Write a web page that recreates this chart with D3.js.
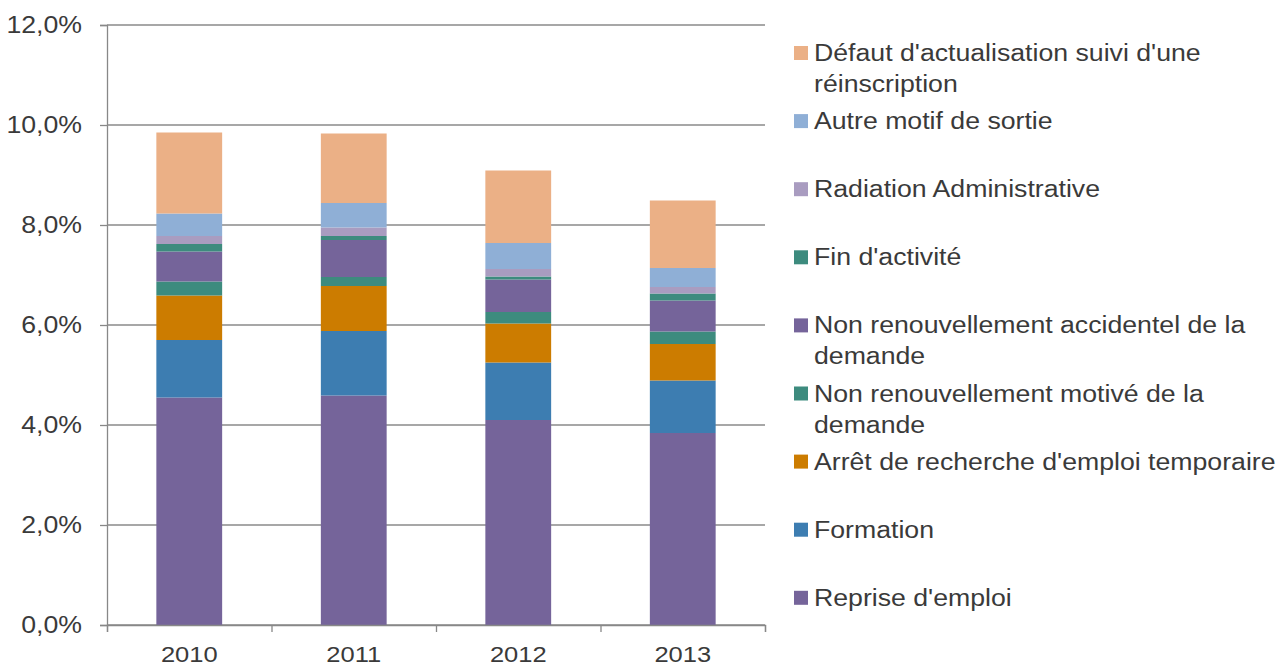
<!DOCTYPE html>
<html>
<head>
<meta charset="utf-8">
<script src="https://cdn.jsdelivr.net/npm/d3@7"></script>
<style>
  body { margin: 0; background: #fff; }
  text { font-family: "Liberation Sans", Arial, sans-serif; fill: #3a3a3a; }
</style>
</head>
<body>
<svg id="chart" width="1279" height="666"></svg>
<script>
// values in % of job seekers
const years = ['2010', '2011', '2012', '2013']
const reprise = [4.55, 4.59, 4.1, 3.84]
const formation = [1.15, 1.29, 1.15, 1.05]
const arret = [0.89, 0.9, 0.78, 0.73]
const nonRenouvMotive = [0.28, 0.18, 0.23, 0.25]
const nonRenouvAccident = [0.6, 0.74, 0.65, 0.62]
const finActivite = [0.15, 0.08, 0.06, 0.14]
const radiation = [0.16, 0.17, 0.15, 0.13]
const autreMotif = [0.45, 0.49, 0.52, 0.38]
const defaut = [1.62, 1.39, 1.45, 1.35]
const yTicks = [0, 2, 4, 6, 8, 10, 12]

// bottom to top
const series = [
  { key: 'reprise', values: reprise, color: '#75649a', label: ["Reprise d'emploi"] },
  { key: 'formation', values: formation, color: '#3d7db1', label: ['Formation'] },
  { key: 'arret', values: arret, color: '#cc7c00', label: ["Arrêt de recherche d'emploi temporaire"] },
  { key: 'motive', values: nonRenouvMotive, color: '#3d8b7e', label: ['Non renouvellement motivé de la', 'demande'] },
  { key: 'accident', values: nonRenouvAccident, color: '#75649a', label: ['Non renouvellement accidentel de la', 'demande'] },
  { key: 'fin', values: finActivite, color: '#3d8b7e', label: ["Fin d'activité"] },
  { key: 'radiation', values: radiation, color: '#a99cc0', label: ['Radiation Administrative'] },
  { key: 'autre', values: autreMotif, color: '#8fafd6', label: ['Autre motif de sortie'] },
  { key: 'defaut', values: defaut, color: '#ebb086', label: ["Défaut d'actualisation suivi d'une", 'réinscription'] },
]

const table = years.map((yr, i) => {
  const row = { year: yr }
  series.forEach(s => (row[s.key] = s.values[i]))
  return row
})

const margin = { left: 107, top: 25, right: 514, bottom: 41 }
const width = 1279 - margin.left - margin.right,
  height = 666 - margin.top - margin.bottom
const stretch = 'scale(1.16,1)'

const svg = d3.select('#chart')
const g = svg.append('g').attr('transform', 'translate(' + margin.left + ',' + margin.top + ')')

const x = d3.scaleBand().domain(years).range([0, width]).paddingInner(0.6).paddingOuter(0.3)
const xEdge = d3.scaleLinear().domain([0, years.length]).range([0, width])
const y = d3.scaleLinear().domain([0, 12]).range([height, 0])

// grid + y axis
const yAxis = g.append('g')
  .call(d3.axisLeft(y).tickValues(yTicks).tickSize(7)
    .tickFormat(d => d.toFixed(1).replace('.', ',') + '%'))
yAxis.select('.domain').attr('stroke', '#888').attr('stroke-width', 1.3)
yAxis.selectAll('.tick line').attr('stroke', '#888').attr('stroke-width', 1.3)
yAxis.selectAll('.tick text')
  .attr('x', 0)
  .attr('transform', 'translate(-25,0) ' + stretch)
  .style('font-size', '23px')

g.append('g')
  .selectAll('line')
  .data(yTicks)
  .enter()
  .append('line')
  .attr('x1', 0)
  .attr('x2', width)
  .attr('y1', d => y(d))
  .attr('y2', d => y(d))
  .attr('stroke', '#8a8a8a')
  .attr('stroke-width', 1.3)

// bars
const stack = d3.stack().keys(series.map(s => s.key))
g.append('g')
  .selectAll('g')
  .data(stack(table))
  .enter()
  .append('g')
  .attr('fill', (d, i) => series[i].color)
  .selectAll('rect')
  .data(d => d)
  .enter()
  .append('rect')
  .attr('x', d => x(d.data.year))
  .attr('width', x.bandwidth())
  .attr('y', d => y(d[1]))
  .attr('height', d => y(d[0]) - y(d[1]))

// x axis: ticks between categories, labels centred
const xTicks = g.append('g')
  .attr('transform', 'translate(0,' + height + ')')
  .call(d3.axisBottom(xEdge).tickValues(d3.range(years.length + 1)).tickSize(7).tickFormat(''))
xTicks.selectAll('.domain, .tick line').attr('stroke', '#888').attr('stroke-width', 1.3)

const xLabels = g.append('g')
  .attr('transform', 'translate(0,' + height + ')')
  .call(d3.axisBottom(x).tickSize(0))
xLabels.select('.domain').remove()
xLabels.selectAll('.tick text')
  .attr('y', 0)
  .attr('dy', 0)
  .attr('transform', 'translate(0,37) ' + stretch)
  .style('font-size', '22px')

// legend, top entry = last series
const legend = svg.append('g')
const legendItems = series.slice().reverse()
legendItems.forEach((s, i) => {
  const ly = 53 + i * 68.1
  legend.append('rect')
    .attr('x', 794)
    .attr('y', ly - 7)
    .attr('width', 14)
    .attr('height', 14)
    .attr('fill', s.color)
  s.label.forEach((line, j) => {
    legend.append('text')
      .attr('transform', 'translate(814,' + (ly + j * 31) + ') ' + stretch)
      .attr('dy', '0.35em')
      .style('font-size', '23px')
      .text(line)
  })
})
</script>
</body>
</html>
